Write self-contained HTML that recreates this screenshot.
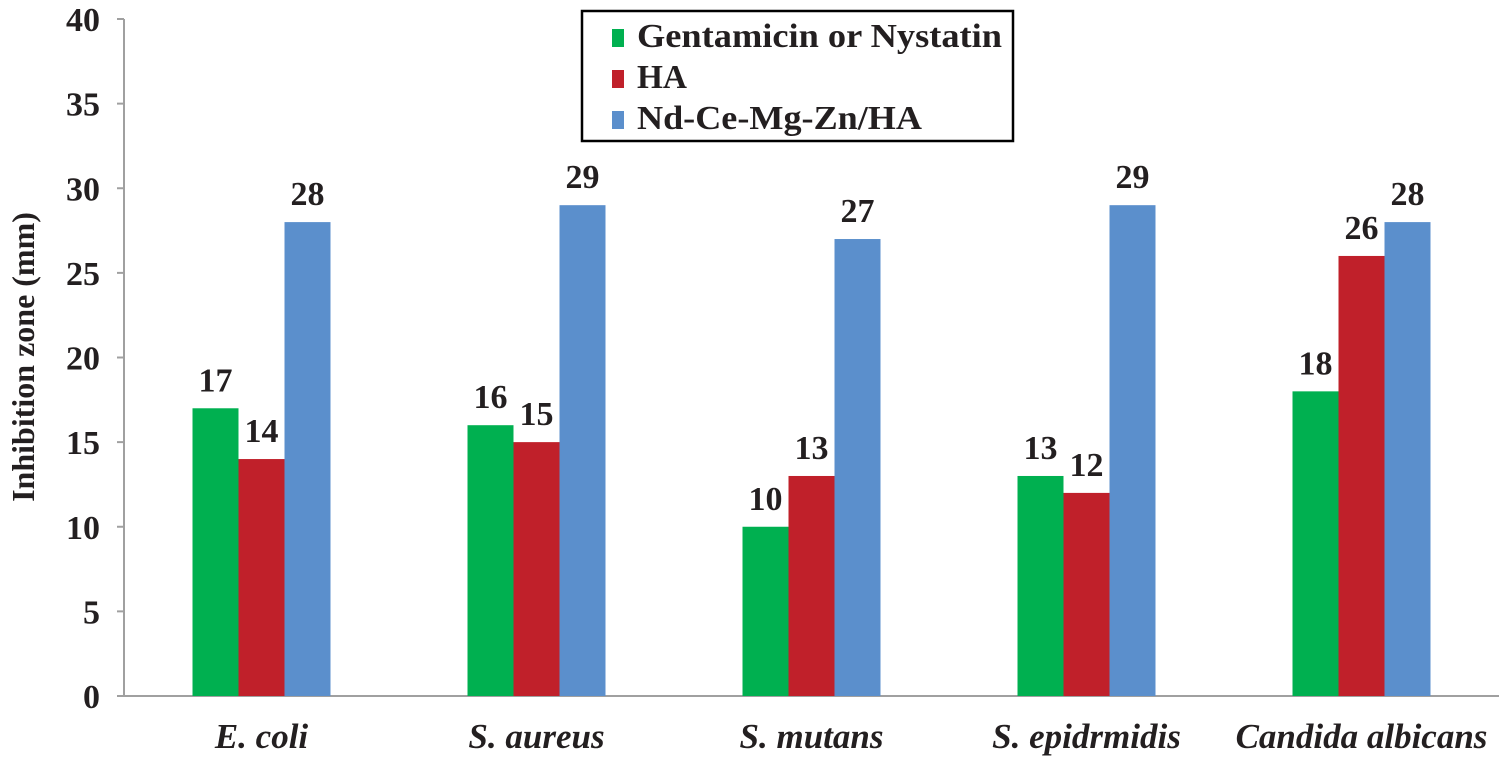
<!DOCTYPE html>
<html><head><meta charset="utf-8"><style>
body{margin:0;background:#fff}
svg text{font-family:"Liberation Serif",serif;font-weight:bold;fill:#231f20}
</style></head><body>
<svg width="1500" height="758" viewBox="0 0 1500 758">
<g id="axes"></g><g id="bars"></g>
<g>
<rect x="582" y="11" width="431" height="130" fill="#fff" stroke="#000" stroke-width="2.5"/>
<rect x="612" y="29" width="12" height="18" fill="#00b050"/>
<text x="637" y="47" font-size="34" textLength="365" lengthAdjust="spacingAndGlyphs">Gentamicin or Nystatin</text>
<rect x="612" y="70" width="12" height="18" fill="#c0202a"/>
<text x="637" y="88" font-size="34" textLength="50" lengthAdjust="spacingAndGlyphs">HA</text>
<rect x="612" y="111" width="12" height="18" fill="#5b8fcc"/>
<text x="637" y="129" font-size="34" textLength="285" lengthAdjust="spacingAndGlyphs">Nd-Ce-Mg-Zn/HA</text>
</g>
<text transform="translate(34,357) rotate(-90)" text-anchor="middle" font-size="32">Inhibition zone (mm)</text>
</svg>
<script>
const categories=["E. coli","S. aureus","S. mutans","S. epidrmidis","Candida albicans"];
const gentamicin=[17,16,10,13,18];
const ha=[14,15,13,12,26];
const ndce=[28,29,27,29,28];
const yTicks=[0,5,10,15,20,25,30,35,40];
const NS="http://www.w3.org/2000/svg";
const x0=124,x1=1499,y0=696,yTop=19;
const y=v=>y0-(v/40)*(y0-yTop);
const bw=(x1-x0)/categories.length;
const xc=i=>x0+bw*(i+0.5);
function mk(tag,attrs,parent){const e=document.createElementNS(NS,tag);for(const k in attrs)e.setAttribute(k,attrs[k]);parent.appendChild(e);return e;}
const ax=document.getElementById('axes'),bars=document.getElementById('bars');
let l=mk('line',{x1:x0,y1:y0,x2:x0,y2:yTop,stroke:'#a0a0a0','stroke-width':2},ax);


l=mk('line',{x1:x0,y1:y0,x2:x1,y2:y0,stroke:'#a0a0a0','stroke-width':2},ax);


yTicks.forEach(t=>{
 const tk=mk('line',{x1:x0-7,y1:y(t),x2:x0,y2:y(t),stroke:'#a0a0a0','stroke-width':2},ax);
 
 
 const tx=mk('text',{x:100,y:y(t)+12,'text-anchor':'end','font-size':34},ax);
 tx.textContent=t;
 
 
});
const series=[[gentamicin,'#00b050','gentamicin'],[ha,'#c0202a','ha'],[ndce,'#5b8fcc','ndcemgzn']];
const w=46;
categories.forEach((c,i)=>{
 const cx=xc(i);
 series.forEach((s,j)=>{
  const v=s[0][i];const bx=cx-1.5*w+j*w;
  const r=mk('rect',{x:bx,y:y(v),width:w,height:y0-y(v),fill:s[1]},bars);
  
  
  const t=mk('text',{x:bx+w/2,y:y(v)-17,'text-anchor':'middle','font-size':34},bars);
  t.textContent=v;
  
  
 });
 const t=mk('text',{x:cx,y:748,'text-anchor':'middle','font-size':35,'font-style':'italic'},ax);
 t.textContent=c;
 
 
});
</script>
</body></html>
